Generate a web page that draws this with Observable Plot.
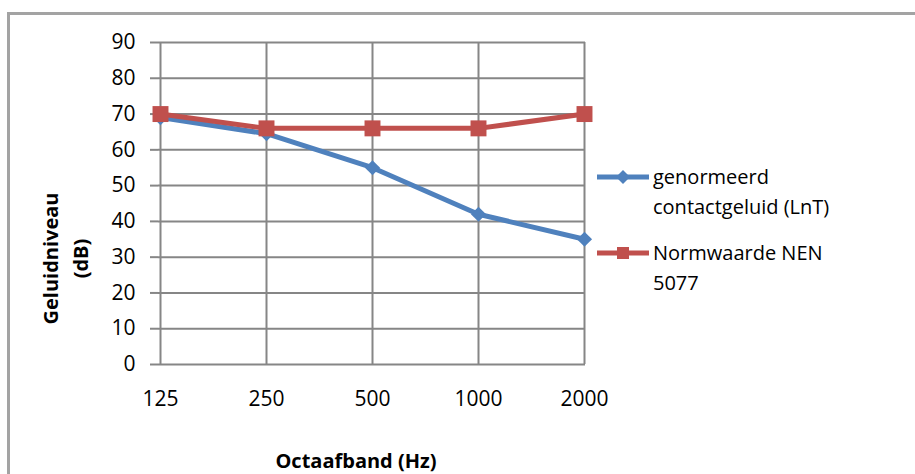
<!DOCTYPE html>
<html><head><meta charset="utf-8">
<script src="https://cdn.jsdelivr.net/npm/d3@7"></script>
<script src="https://cdn.jsdelivr.net/npm/@observablehq/plot@0.6"></script>
<style>
body{margin:0;background:#fff;font-family:"Open Sans",sans-serif;}
#wrap{position:relative;width:915px;height:474px;overflow:hidden;background:#fff;}
#wrap svg{position:absolute;left:0;top:0;}
#frame{position:absolute;left:7px;top:12px;width:1000px;height:1000px;border-left:3px solid #a3a3a3;border-top:3px solid #a3a3a3;pointer-events:none;}
#legend{position:absolute;left:597px;top:162px;font-size:20px;color:#000;line-height:30px;}
.entry{display:flex;align-items:flex-start;}
.entry svg{position:static !important;flex:none;}
.entry + .entry{margin-top:16px;}
.lbl{margin-left:4px;}
</style></head>
<body>
<div id="wrap"></div>
<script>
const bands = ["125", "250", "500", "1000", "2000"];
const lntValues = [69, 64.5, 55, 42, 35];
const nenValues = [70, 66, 66, 66, 70];
const yTicks = [0, 10, 20, 30, 40, 50, 60, 70, 80, 90];
const seriesNames = ["genormeerd\ncontactgeluid (LnT)", "Normwaarde NEN\n5077"];
const seriesColors = ["#4F81BD", "#C0504D"];
const yTitle = "Geluidniveau\n(dB)";
const xTitle = "Octaafband (Hz)";

const lnt = bands.map((b, i) => ({band: b, value: lntValues[i]}));
const nen = bands.map((b, i) => ({band: b, value: nenValues[i]}));
const grid = {stroke: "#868686", strokeOpacity: 1, strokeWidth: 2};

const chart = Plot.plot({
  width: 915, height: 474,
  marginLeft: 158, marginRight: 330, marginTop: 42, marginBottom: 110,
  style: {fontFamily: "Open Sans", fontSize: "21px", background: "transparent", color: "#000"},
  x: {type: "point", domain: bands, padding: 0},
  y: {domain: [0, 90]},
  marks: [
    Plot.gridY(yTicks, grid),
    Plot.gridX(grid),
    Plot.axisY({ticks: yTicks, tickSize: 8, tickPadding: 15, stroke: "#868686", strokeWidth: 2, fill: "#000", fontSize: 21, label: null}),
    Plot.axisX({tickSize: 0, tickPadding: 27, fill: "#000", fontSize: 21, label: null}),
    Plot.line(lnt, {x: "band", y: "value", stroke: seriesColors[0], strokeWidth: 5, strokeLinejoin: "round"}),
    Plot.dot(lnt, {x: "band", y: "value", symbol: "diamond2", r: 6.8, fill: seriesColors[0]}),
    Plot.line(nen, {x: "band", y: "value", stroke: seriesColors[1], strokeWidth: 5, strokeLinejoin: "round"}),
    Plot.dot(nen, {x: "band", y: "value", symbol: "square", r: 9, fill: seriesColors[1]}),
    Plot.text([yTitle], {frameAnchor: "left", textAnchor: "middle", lineAnchor: "middle", rotate: -90, dx: -95, dy: 55, fontWeight: "bold", fontSize: 20, lineHeight: 1.5, fill: "#000"}),
    Plot.text([xTitle], {frameAnchor: "bottom", dx: -16, dy: 103, fontWeight: "bold", fontSize: 20, fill: "#000"})
  ]
});
const wrap = document.getElementById("wrap");
wrap.appendChild(chart);
const frame = document.createElement("div");
frame.id = "frame";
wrap.appendChild(frame);

const legend = document.createElement("div");
legend.id = "legend";
const symbols = ["M26 8 L33 15 L26 22 L19 15 Z", "M20 9 H32 V21 H20 Z"];
seriesNames.forEach((name, i) => {
  const entry = document.createElement("div");
  entry.className = "entry";
  entry.innerHTML = `<svg width="52" height="30"><line x1="0" x2="52" y1="15" y2="15" stroke="${seriesColors[i]}" stroke-width="5"/><path d="${symbols[i]}" fill="${seriesColors[i]}"/></svg>`;
  const lbl = document.createElement("div");
  lbl.className = "lbl";
  lbl.innerHTML = name.split("\n").join("<br>");
  entry.appendChild(lbl);
  legend.appendChild(entry);
});
wrap.appendChild(legend);
</script>
</body></html>
